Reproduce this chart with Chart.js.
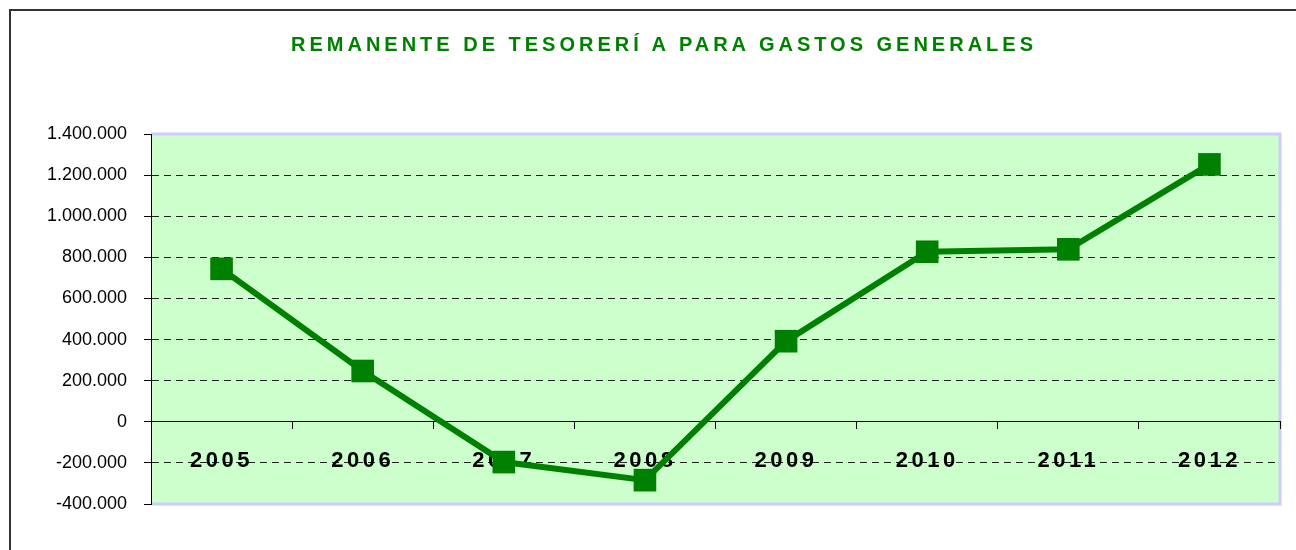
<!DOCTYPE html>
<html>
<head>
<meta charset="utf-8">
<title>Remanente de tesorería para gastos generales</title>
<script src="https://cdn.jsdelivr.net/npm/chart.js@4.4.1/dist/chart.umd.min.js"></script>
<style>
  html, body { margin: 0; padding: 0; background: #fff; overflow: hidden; }
  #wrap { position: relative; width: 1296px; height: 550px; overflow: hidden; }
  #frame { position: absolute; left: 9px; top: 9px; width: 2000px; height: 2000px;
           border-left: 2px solid #333; border-top: 2px solid #333; }
  #title { position: absolute; left: 0; top: 34px; width: 1324px; padding-left: 4px; box-sizing: border-box;
           text-align: center; font: bold 20px "Liberation Sans", Arial, sans-serif; line-height: 20px;
           letter-spacing: 4px; color: #008000; }
  canvas { position: absolute; left: 0; top: 0; }
</style>
</head>
<body>
<div id="wrap">
  <div id="frame"></div>
  <canvas id="chart" width="1296" height="550"></canvas>
  <div id="title">REMANENTE DE TESORERÍ A PARA GASTOS GENERALES</div>
</div>
<script>
const years = ['2005', '2006', '2007', '2008', '2009', '2010', '2011', '2012'];
const remanente = [744000, 247000, -196000, -284000, 392000, 827000, 839000, 1252000];
const yTickValues = [-400000, -200000, 0, 200000, 400000, 600000, 800000, 1000000, 1200000, 1400000];

const FONT = '"Liberation Sans", Arial, sans-serif';

function formatThousands(v) {
    const s = Math.abs(v).toString().replace(/\B(?=(\d{3})+(?!\d))/g, '.');
    return v < 0 ? '-' + s : s;
}

// fondo verde del área de trazado + espaciado de letras en las etiquetas
const plotArea = {
    id: 'plotArea',
    beforeDraw(chart) {
        const { ctx, chartArea: a } = chart;
        ctx.save();
        ctx.fillStyle = '#CCFFCC';
        ctx.fillRect(a.left, a.top, a.width, a.height);
        ctx.strokeStyle = '#CCCCFF';
        ctx.lineWidth = 3;
        ctx.beginPath();
        ctx.moveTo(a.left, a.top);
        ctx.lineTo(a.right, a.top);
        ctx.lineTo(a.right, a.bottom);
        ctx.lineTo(a.left, a.bottom);
        ctx.stroke();
        ctx.restore();
        ctx.letterSpacing = '3.5px';
    },
    afterDatasetsDraw(chart) {
        chart.ctx.letterSpacing = '0px';
    },
    afterDraw(chart) {
        chart.ctx.letterSpacing = '0px';
    }
};

const ctx = document.getElementById('chart').getContext('2d');
new Chart(ctx, {
    type: 'line',
    data: {
        labels: years,
        datasets: [{
            data: remanente,
            borderColor: '#008000',
            backgroundColor: '#008000',
            borderWidth: 6,
            pointStyle: 'rect',
            pointRadius: 16,
            pointHoverRadius: 16,
            pointBorderWidth: 0,
            tension: 0,
            fill: false
        }]
    },
    options: {
        responsive: false,
        animation: false,
        events: [],
        layout: { padding: { top: 134, right: 7, bottom: 46, left: 0 } },
        plugins: {
            legend: { display: false },
            title: { display: false },
            tooltip: { enabled: false }
        },
        scales: {
            x: {
                type: 'category',
                position: { y: 0 },
                offset: true,
                grid: { offset: true, drawOnChartArea: false, tickLength: 7, tickColor: '#000', tickWidth: 1 },
                border: { display: true, color: '#000', width: 1 },
                ticks: {
                    color: '#000',
                    font: { family: FONT, size: 22, weight: 'bold' },
                    padding: 19,
                    maxRotation: 0,
                    autoSkip: false
                }
            },
            y: {
                min: -400000,
                max: 1400000,
                afterBuildTicks: s => { s.ticks = yTickValues.map(v => ({ value: v })); },
                afterFit: s => { s.width = 151; },
                grid: {
                    color: c => (c.tick && (c.tick.value === 1400000 || c.tick.value === -400000)) ? 'rgba(0,0,0,0)' : '#222',
                    tickColor: '#000',
                    tickLength: 7,
                    lineWidth: 1
                },
                border: { display: true, color: '#000', width: 1, dash: [7, 5] },
                ticks: {
                    z: 1,
                    color: '#000',
                    font: { family: FONT, size: 18 },
                    padding: 17,
                    callback: v => formatThousands(v)
                }
            }
        }
    },
    plugins: [plotArea]
});
</script>
</body>
</html>
